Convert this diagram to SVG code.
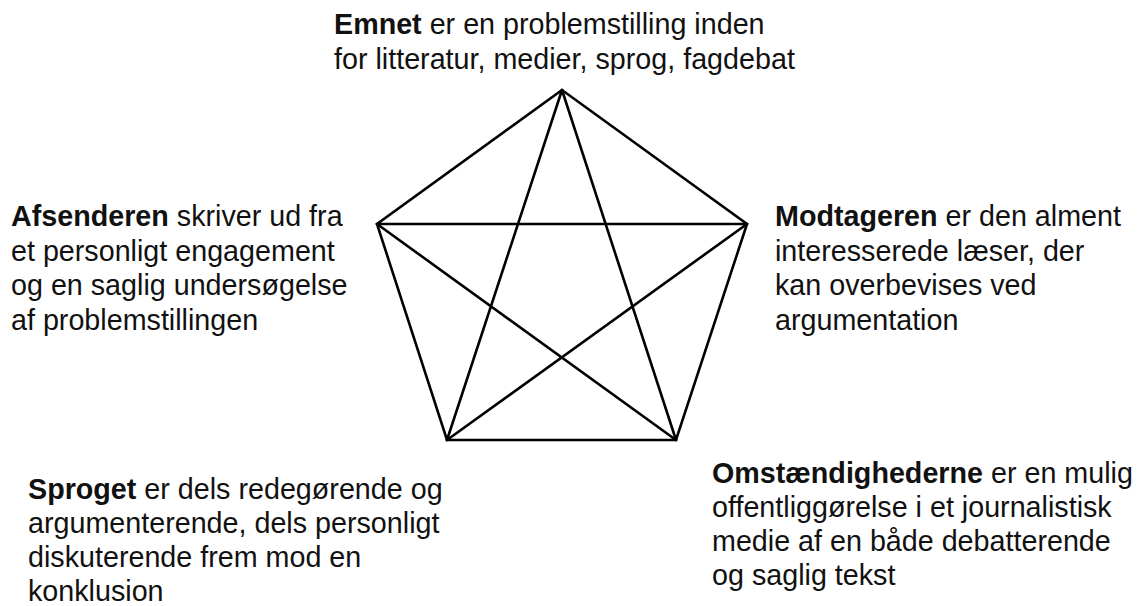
<svg xmlns="http://www.w3.org/2000/svg" width="1137" height="606" viewBox="0 0 1137 606">
<style>
text{font-family:"Liberation Sans",Arial,Helvetica,sans-serif;font-size:28.7px;fill:#111}
.b{font-weight:bold}
.ln{stroke:#000;stroke-width:2.6;fill:none;stroke-linejoin:miter;stroke-linecap:round}
</style>
<rect width="1137" height="606" fill="#fff"/>
<g id="connectors">
<polygon class="ln" points="562,90 377,224 447,440 676,440 747,224"/>
<line class="ln" x1="562" y1="90" x2="447" y2="440"/>
<line class="ln" x1="562" y1="90" x2="676" y2="440"/>
<line class="ln" x1="377" y1="224" x2="747" y2="224"/>
<line class="ln" x1="377" y1="224" x2="676" y2="440"/>
<line class="ln" x1="747" y1="224" x2="447" y2="440"/>
</g>
<g id="emnet">
<text x="334" y="34"><tspan class="b">Emnet</tspan> er en problemstilling inden</text>
<text x="334" y="68.5">for litteratur, medier, sprog, fagdebat</text>
</g>
<g id="afsenderen">
<text x="11" y="226"><tspan class="b">Afsenderen</tspan> skriver ud fra</text>
<text x="11" y="260.5">et personligt engagement</text>
<text x="11" y="295">og en saglig undersøgelse</text>
<text x="11" y="329.5">af problemstillingen</text>
</g>
<g id="modtageren">
<text x="775" y="226">
<tspan class="b">Modtageren</tspan> er den alment</text>
<text x="775" y="260.5">interesserede læser, der</text>
<text x="775" y="295">kan overbevises ved</text>
<text x="775" y="329.5">argumentation</text>
</g>
<g id="sproget">
<text x="28" y="498.5"><tspan class="b">Sproget</tspan> er dels redegørende og</text>
<text x="28" y="533">argumenterende, dels personligt</text>
<text x="28" y="567">diskuterende frem mod en</text>
<text x="28" y="601">konklusion</text>
</g>
<g id="omstaendighederne">
<text x="712" y="483"><tspan class="b">Omstændighederne</tspan> er en mulig</text>
<text x="712" y="517">offentliggørelse i et journalistisk</text>
<text x="712" y="551">medie af en både debatterende</text>
<text x="712" y="585">og saglig tekst</text>
</g>
</svg>
